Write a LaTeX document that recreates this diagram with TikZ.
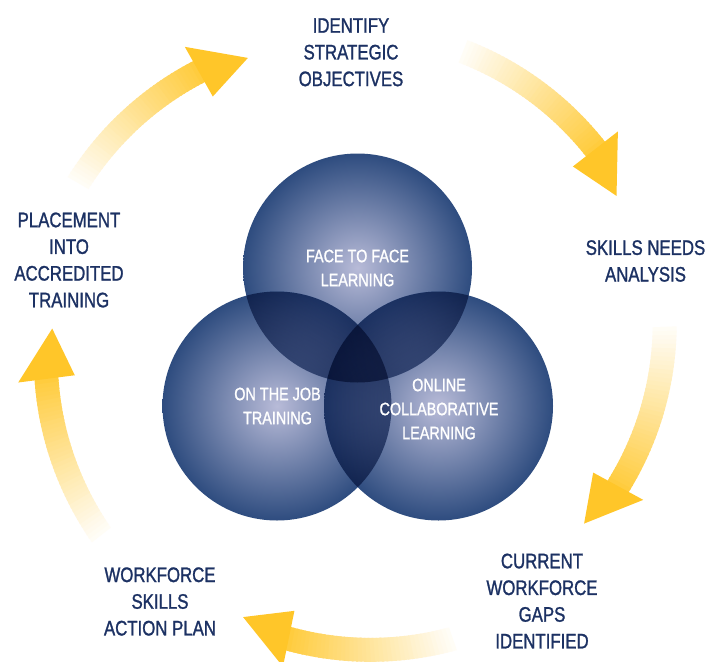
\documentclass[tikz,border=0pt]{standalone}
\usepackage{fontspec}
\setmainfont[FakeStretch=0.8,FakeBold=1.2]{Liberation Sans}
\definecolor{navy}{HTML}{1C3163}
\definecolor{arrowY}{HTML}{FFC629}
\definecolor{ballIn}{HTML}{B8BBD8}
\definecolor{ballOut}{HTML}{2E4C7F}

% #1 tail angle, #2 base angle, #3 tail radius, #4 base radius (around the ring centre)
\newcommand\ringarrow[4]{%
  \begin{scope}[shift={(ring)}]
    \foreach \ii in {0,...,39}{
      \pgfmathsetmacro\yaA{#1+(#2-#1)*\ii/40}
      \pgfmathsetmacro\yaB{#1+(#2-#1)*(\ii+1.4)/40}
      \pgfmathsetmacro\yrA{#3+(#4-#3)*\ii/40}
      \pgfmathsetmacro\yrB{#3+(#4-#3)*(\ii+1.4)/40}
      \pgfmathsetmacro\yrAi{\yrA-12}
      \pgfmathsetmacro\yrAo{\yrA+12}
      \pgfmathsetmacro\yrBi{\yrB-12}
      \pgfmathsetmacro\yrBo{\yrB+12}
      \pgfmathtruncatemacro\ypct{4+86*\ii/39}
      \fill[arrowY!\ypct!white] (\yaA:\yrAi) -- (\yaA:\yrAo) -- (\yaB:\yrBo) -- (\yaB:\yrBi) -- cycle;
    }
    \pgfmathsetmacro\yhI{#4-28.5}
    \pgfmathsetmacro\yhO{#4+28.5}
    \pgfmathsetmacro\yhT{#4-8}
    \pgfmathsetmacro\yhA{#2+9.5}
    \fill[arrowY] (#2:\yhI) -- (#2:\yhO) -- (\yhA:\yhT) -- cycle;
  \end{scope}}

\begin{document}
\begin{tikzpicture}[x=1pt,y=-1pt,
  steplabel/.style={align=center,text=navy,font=\fontsize{21}{26.7}\selectfont,inner sep=0pt},
  balllabel/.style={align=center,text=white,font=\fontsize{18}{24}\selectfont,inner sep=0pt},
  ball/.style={inner color=ballIn,outer color=ballOut},
  ballover/.style={inner color=ballIn,outer color=ballOut,blend mode=multiply,opacity=0.75}]
\useasboundingbox (0,0) rectangle (709,661);
\fill[white] (0,0) rectangle (709,661);
\coordinate (ring) at (350,340);

% cycle arrows
\ringarrow{-150}{-119.4}{314}{308}
\ringarrow{-68.6}{-37.9}{310}{311}
\ringarrow{-2.4}{28.6}{315}{305.5}
\ringarrow{71}{101.6}{316}{305}
\ringarrow{141.9}{172.7}{316}{306}

% circles
\coordinate (cTop) at (357.5,268);
\coordinate (cLeft) at (277,406);
\coordinate (cRight) at (438.5,406);
\shade[ball] (cTop) circle [radius=114.5];
\shade[ball] (cLeft) circle [radius=114.5];
\begin{scope}
  \clip (cLeft) circle [radius=114.5];
  \shade[ballover] (cTop) circle [radius=114.5];
\end{scope}
\shade[ball] (cRight) circle [radius=114.5];
\begin{scope}
  \clip (cRight) circle [radius=114.5];
  \shade[ballover] (cTop) circle [radius=114.5];
  \shade[ballover] (cLeft) circle [radius=114.5];
\end{scope}

\node[balllabel] (f2f) at (357.5,268) {FACE TO FACE\\LEARNING};
\node[balllabel] (ojt) at (277.5,406) {ON THE JOB\\TRAINING};
\node[balllabel] (ocl) at (439,409) {ONLINE\\COLLABORATIVE\\LEARNING};

% step labels
\node[steplabel] (obj) at (351,52.3) {IDENTIFY\\STRATEGIC\\OBJECTIVES};
\node[steplabel] (sna) at (645.5,261) {SKILLS NEEDS\\ANALYSIS};
\node[steplabel] (gap) at (542,601) {CURRENT\\WORKFORCE\\GAPS\\IDENTIFIED};
\node[steplabel] (wap) at (160,601.5) {WORKFORCE\\SKILLS\\ACTION PLAN};
\node[steplabel] (pat) at (69,260) {PLACEMENT\\INTO\\ACCREDITED\\TRAINING};
\end{tikzpicture}
\end{document}
